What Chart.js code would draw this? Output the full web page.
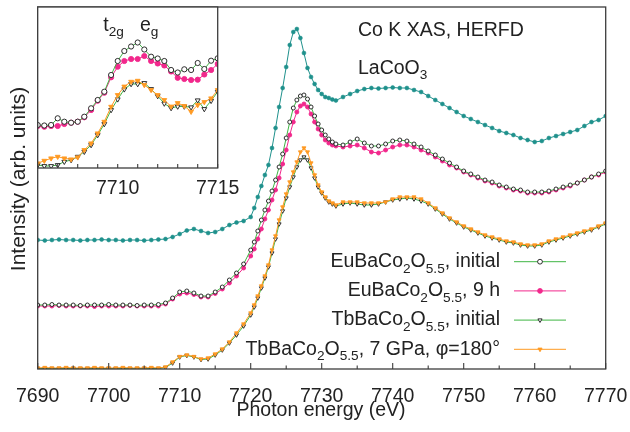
<!DOCTYPE html>
<html><head><meta charset="utf-8">
<script src="https://cdn.jsdelivr.net/npm/chart.js@4.4.0/dist/chart.umd.min.js"></script>
<style>
html,body{margin:0;padding:0;background:#fff;}
#wrap{position:relative;width:630px;height:432px;background:#fff;}
canvas{position:absolute;left:0;top:0;}
</style></head><body>
<div id="wrap"><canvas id="main" width="630" height="432"></canvas><canvas id="inset" width="630" height="432"></canvas></div>
<script>
// ---------- DATA (main panel) ----------
const energy = [7690,7691,7692,7693,7694,7695,7696,7697,7698,7699,7700,7701,7702,7703,7704,7705,7706,7707,7708,7709,7710,7711,7712,7713,7714,7715,7716,7717,7718,7719,7720,
 7720.5,7721,7721.5,7722,7722.5,7723,7723.5,7724,7724.5,7725,7725.5,7726,7726.5,7727,7727.5,7728,7728.5,7729,7729.5,7730,7730.5,7731,7731.5,7732,
 7733,7734,7735,7736,7737,7738,7739,7740,7741,7742,7743,7744,7745,7746,7747,7748,7749,7750,7751,7752,7753,7754,7755,7756,7757,7758,7759,7760,7761,7762,7763,7764,7765,7766,7767,7768,7769,7770];
const laCoO3 = [129,128.5,129,129.5,129,129,128.5,129,129,129.5,129,129,128.5,129,129,128.5,129,129.5,130,132,135,138.5,140,138,136,137,140,144,146.5,148,152,
 161,172,183,194,204,221,241,262,281,302,324,337,340,331,316,301,292,285,279,275,272,271,269.5,268.5,
 272,275,278,280,281,280.5,281,281.5,281,281,279,277,273,269,265,261,257,253,250,247,244,241,238,236,234,231,229,227,228,231,233,235,237,239,243,247,249,253];
const euInitial = [64,64,64.5,64,64,64,63.5,64,64,64,64.5,64,64,64,63.5,64,64,64.5,66,71,77,78,76,73,73,77,82,89,96,105,119,
 127,138,149,159,168,178,189,202,215,231,247,261,269,273,274,270,262,253,245,239,234,230,227,225,
 224,227,230,226,223,223,225,228,229,228,225,222,218,214,210,206,202,198,195,192,189,187,184,182,180,179,177,177,177,178,180,182,184,186,189,192,195,198];
const eu9h = [63,63,63,63.5,63,63,63,63,62.5,63,63,63,63,63.5,63,63,63,63,65,70,75,76,74.5,72,72,75.5,80,86,93,101,113,
 120,130,140,150,159,169,179,191,205,219,234,247,257,263,265,262,255,247,240,234,229,226,224,223,
 222,223,224,221,217,216,219,222,224,224,222,219,216,212,208,204,201,197,194,191,188,186,183,181,179,178,176,176,176,177,179,181,183,186,189,192,194,197];
const tbInitial = [0.5,0.5,0.5,0.5,0.5,0.5,0.5,0.5,0.5,0.5,0.5,0.5,0.5,0.5,0.5,0.5,0.5,0.5,1.5,6,12,13.5,12,9.5,10,14,19,26,34,43,54,
 62,71,81,91,102,116,130,145,158,171,182,192,202,209,212,209,201,191,182,176,171,167,165,163,
 165,166,165,164,164,165,167,169,170,171,170,168,165,160,155,150,146,142,139,136,133,131,129,127,126,124,123,123,124,127,129,131,133,135,137,139,142,145];
const tb7GPa = [1,1.5,1,1,1.5,1,1,1,1.5,1,1,1,1.5,1,1,1,1.5,1,2,7,12.5,14,12.5,10,11,15,20,27,36,45,56,
 64,73,83,93,104,119,133,149,162,175,187,197,207,217,221,217,206,194,184,177,172,168,166,164,
 167,167,167,166,166,166,167,170,172,172,172,170,166,161,156,151,147,143,140,137,134,132,130,128,127,125,124,124,125,128,130,132,134,136,138,140,143,146];

// ---------- DATA (inset) ----------
const insetEnergy = [7706,7706.33,7706.67,7707,7707.33,7707.67,7708,7708.33,7708.67,7709,7709.33,7709.67,7710,7710.33,7710.67,7711,7711.33,7711.67,7712,7712.33,7712.67,7713,7713.33,7713.67,7714,7714.33,7714.67,7715];
const insetEuInitial = [43,42.5,43,49.7,46.3,45.3,46.3,51.3,59.7,68,76.3,93,107,117,121.5,125.5,118.5,111.3,109.5,107,98,95.5,98.7,98,105,99,107.3,109.7];
const insetEu9h = [42,41.3,42,42,44,45.3,46.3,50.7,58,67.3,75.3,90.7,101.3,107,109,109,112,107,104.5,102.5,96.5,90.2,89,88,88.3,93.5,98,104];
const insetTbInitial = [3,2,2,3,6.3,8,11.3,16.3,23,33,44,58,68.7,78.7,84,84,85,79,72,64.5,60,61.5,61.5,60.7,67.7,59,67.2,76.3];
const insetTb7GPa = [4.7,7.3,9.7,11.3,9.7,8.7,10.7,18,24.7,34.7,46.3,61.3,73,81.5,86.3,87.3,83,78,73,68,61.5,65,62,56.3,63,66,69.7,78];

// ---------- TEXT ----------
const legendLabels = ['EuBaCo_{2}O_{5.5}, initial','EuBaCo_{2}O_{5.5}, 9 h','TbBaCo_{2}O_{5.5}, initial','TbBaCo_{2}O_{5.5}, 7 GPa, \u03c6=180\u00b0'];
const xTitle = 'Photon energy (eV)';
const yTitle = 'Intensity (arb. units)';
const note1 = 'Co K XAS, HERFD';
const note2 = 'LaCoO_{3}';

// ---------- STYLE ----------
const FONT = "'Liberation Sans', Arial, Helvetica, sans-serif";
const TXT = '#222';
const AX = '#3c3c3c';
const TEAL = '#1f918c';
const PINK = '#f2288c';
const ORANGE = '#ff9a22';
const GREEN = '#3fb544';
const BLACK = '#1a1a1a';
const FS = 19.5;

function pts(xs, ys){ return xs.map((x,i)=>({x:x, y:ys[i]})); }
function parseRich(s){
  const parts=[]; const re=/_\{([^}]*)\}/g; let last=0, m;
  while((m=re.exec(s))){ if(m.index>last) parts.push({t:s.slice(last,m.index)}); parts.push({t:m[1],s:true}); last=re.lastIndex; }
  if(last<s.length) parts.push({t:s.slice(last)});
  return parts;
}
function rich(ctx, s, x, y, align, size){
  const parts=parseRich(s); const sub=size*0.7, off=size*0.3;
  let w=0; parts.forEach(p=>{ctx.font=(p.s?sub:size)+'px '+FONT; w+=ctx.measureText(p.t).width;});
  let cx = align==='right' ? x-w : x;
  ctx.textAlign='left'; ctx.textBaseline='alphabetic';
  parts.forEach(p=>{ctx.font=(p.s?sub:size)+'px '+FONT; ctx.fillText(p.t, cx, p.s? y+off : y); cx+=ctx.measureText(p.t).width;});
}

const seriesStyle = [
  {label:legendLabels[0], line:GREEN, ptFill:'#ffffff', ptBorder:BLACK, style:'circle', rot:0},
  {label:legendLabels[1], line:PINK, ptFill:PINK, ptBorder:PINK, style:'circle', rot:0},
  {label:legendLabels[2], line:GREEN, ptFill:'#ffffff', ptBorder:BLACK, style:'triangle', rot:180},
  {label:legendLabels[3], line:ORANGE, ptFill:ORANGE, ptBorder:ORANGE, style:'triangle', rot:180}
];
function ds(label, xs, ys, st, r){
  return {label:label, data:pts(xs,ys), borderColor:st.line, borderWidth:1, pointRadius:r, pointStyle:st.style,
    pointRotation:st.rot, pointBackgroundColor:st.ptFill, pointBorderColor:st.ptBorder, pointBorderWidth:0.9, tension:0, fill:false};
}

const framePlugin = {
  id:'frame',
  afterDatasetsDraw(chart, args, opts){
    const {ctx, chartArea:a} = chart; const x = chart.scales.x;
    ctx.save(); ctx.strokeStyle=AX; ctx.lineWidth=1.3;
    ctx.strokeRect(a.left, a.top, a.right-a.left, a.bottom-a.top);
    ctx.lineWidth=1.1;
    x.ticks.forEach(t=>{
      const px = x.getPixelForValue(t.value);
      const len = opts.len(t.value);
      ctx.beginPath(); ctx.moveTo(px, a.bottom); ctx.lineTo(px, a.bottom-len); ctx.stroke();
    });
    ctx.restore();
  }
};
const bgPlugin = {
  id:'bg',
  beforeDatasetsDraw(chart){ const {ctx, chartArea:a}=chart; ctx.save(); ctx.fillStyle='#fff'; ctx.fillRect(a.left,a.top,a.right-a.left,a.bottom-a.top); ctx.restore(); }
};
const textPlugin = {
  id:'texts',
  afterDraw(chart){
    const ctx = chart.ctx; ctx.save(); ctx.fillStyle=TXT;
    rich(ctx, note1, 358, 36, 'left', FS);
    rich(ctx, note2, 358, 73.5, 'left', FS);
    // axis titles
    ctx.font = FS+'px '+FONT; ctx.textAlign='center'; ctx.textBaseline='alphabetic';
    ctx.fillText(xTitle, 321, 415.5);
    ctx.save(); ctx.translate(24.5, 179); ctx.rotate(-Math.PI/2); ctx.font='21px '+FONT; ctx.fillText(yTitle, 0, 0); ctx.restore();
    // legend
    const rows=[261.7, 290.9, 320.1, 349.3];
    seriesStyle.forEach((st,i)=>{
      const y=rows[i];
      ctx.fillStyle=TXT; rich(ctx, st.label, 500, y+5.2, 'right', FS);
      ctx.strokeStyle=st.line; ctx.lineWidth=1; ctx.beginPath(); ctx.moveTo(514,y); ctx.lineTo(566,y); ctx.stroke();
      ctx.fillStyle=st.ptFill; ctx.strokeStyle=st.ptBorder; ctx.lineWidth=0.9;
      Chart.helpers.drawPoint(ctx, {pointStyle:st.style, radius:2.4, rotation:st.rot, borderWidth:0.9}, 540, y);
    });
    ctx.restore();
  }
};
function noSidePad(s){ s.paddingLeft=0; s.paddingRight=0; s.paddingTop=0; s.paddingBottom=0; }

new Chart(document.getElementById('main'), {
  type:'line',
  data:{datasets:[
    {label:'LaCoO3', data:pts(energy,laCoO3), borderColor:TEAL, borderWidth:1, pointRadius:2, pointStyle:'circle',
     pointBackgroundColor:TEAL, pointBorderColor:TEAL, pointBorderWidth:0.5, tension:0},
    ds(legendLabels[0], energy, euInitial, seriesStyle[0], 2),
    ds(legendLabels[1], energy, eu9h, seriesStyle[1], 2),
    ds(legendLabels[3], energy, tb7GPa, seriesStyle[3], 2.3),
    ds(legendLabels[2], energy, tbInitial, seriesStyle[2], 2.3)
  ]},
  options:{
    responsive:false, animation:false, events:[], devicePixelRatio:1,
    layout:{padding:{left:0,right:24.3,top:7,bottom:0}},
    plugins:{legend:{display:false}, tooltip:{enabled:false}, frame:{len:v=> (Math.round(v)%10===0)?6:3.5}},
    scales:{
      x:{type:'linear', min:7690, max:7770, grid:{display:false, drawTicks:false}, border:{display:false},
         ticks:{stepSize:5, autoSkip:false, maxRotation:0, minRotation:0, padding:16, color:TXT, font:{family:FONT, size:FS},
                callback:v=> (Math.round(v)%10===0)? String(Math.round(v)) : ''},
         afterFit:s=>{s.height=63; noSidePad(s);}},
      y:{type:'linear', min:0, max:362, display:true, grid:{display:false, drawTicks:false}, border:{display:false},
         ticks:{display:false}, afterFit:s=>{s.width=37.7; noSidePad(s);}}
    }
  },
  plugins:[framePlugin, textPlugin]
});

const insetText = {
  id:'insetText',
  afterDraw(chart){
    const ctx=chart.ctx; ctx.save(); ctx.fillStyle=TXT;
    rich(ctx, 't_{2g}', 103.3, 30.5, 'left', FS);
    rich(ctx, 'e_{g}', 140, 30.5, 'left', FS);
    ctx.restore();
  }
};
new Chart(document.getElementById('inset'), {
  type:'line',
  data:{datasets:[
    ds(legendLabels[0], insetEnergy, insetEuInitial, seriesStyle[0], 2.6),
    ds(legendLabels[1], insetEnergy, insetEu9h, seriesStyle[1], 2.6),
    ds(legendLabels[3], insetEnergy, insetTb7GPa, seriesStyle[3], 2.8),
    ds(legendLabels[2], insetEnergy, insetTbInitial, seriesStyle[2], 2.8)
  ]},
  options:{
    responsive:false, animation:false, events:[], devicePixelRatio:1,
    layout:{padding:{left:37.7,right:412.3,top:7,bottom:234}},
    plugins:{legend:{display:false}, tooltip:{enabled:false}, frame:{len:v=>4}},
    scales:{
      x:{type:'linear', min:7706, max:7715, grid:{display:false, drawTicks:false}, border:{display:false},
         ticks:{stepSize:1, autoSkip:false, maxRotation:0, minRotation:0, padding:9, color:TXT, font:{family:FONT, size:FS},
                callback:v=> (Math.round(v)%5===0)? String(Math.round(v)) : ''},
         afterFit:s=>{s.height=30; noSidePad(s);}},
      y:{type:'linear', min:0, max:161, display:false}
    }
  },
  plugins:[bgPlugin, framePlugin, insetText]
});
</script>
</body></html>
